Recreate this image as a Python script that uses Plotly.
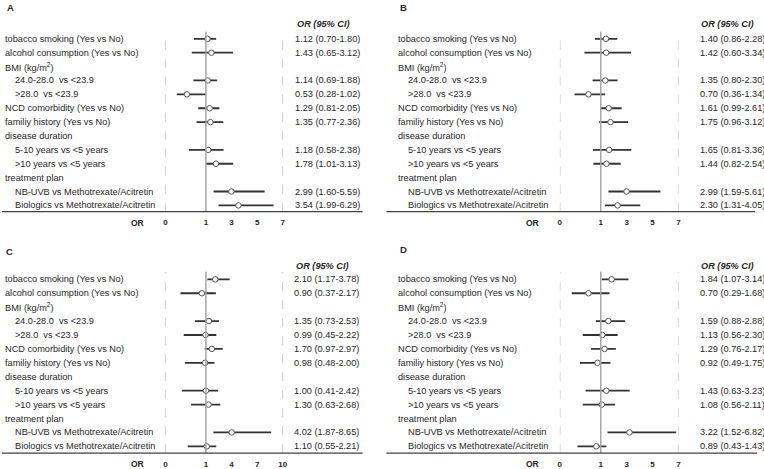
import plotly.graph_objects as go

W, H = 764, 469
FONT = "Liberation Sans, Arial, sans-serif"
INK = "#262626"

ROW_LABELS = [
    "tobacco smoking (Yes vs No)",
    "alcohol consumption (Yes vs No)",
    "BMI (kg/m<sup>2</sup>)",
    "24.0-28.0\u00a0 vs &lt;23.9",
    "&gt;28.0\u00a0 vs &lt;23.9",
    "NCD comorbidity (Yes vs No)",
    "familiy history (Yes vs No)",
    "disease duration",
    "5-10 years vs &lt;5 years",
    "&gt;10 years vs &lt;5 years",
    "treatment plan",
    "NB-UVB vs Methotrexate/Acitretin",
    "Biologics vs Methotrexate/Acitretin",
]
INDENTED = [0, 0, 0, 1, 1, 0, 0, 0, 1, 1, 0, 1, 1]

# odds ratios and 95% CI per panel (None = group header row)
OR_A = [1.12, 1.43, None, 1.14, 0.53, 1.29, 1.35, None, 1.18, 1.78, None, 2.99, 3.54]
LO_A = [0.70, 0.65, None, 0.69, 0.28, 0.81, 0.77, None, 0.58, 1.01, None, 1.60, 1.99]
HI_A = [1.80, 3.12, None, 1.88, 1.02, 2.05, 2.36, None, 2.38, 3.13, None, 5.59, 6.29]

OR_B = [1.40, 1.42, None, 1.35, 0.70, 1.61, 1.75, None, 1.65, 1.44, None, 2.99, 2.30]
LO_B = [0.86, 0.60, None, 0.80, 0.36, 0.99, 0.96, None, 0.81, 0.82, None, 1.59, 1.31]
HI_B = [2.28, 3.34, None, 2.30, 1.34, 2.61, 3.12, None, 3.36, 2.54, None, 5.61, 4.05]

OR_C = [2.10, 0.90, None, 1.35, 0.99, 1.70, 0.98, None, 1.00, 1.30, None, 4.02, 1.10]
LO_C = [1.17, 0.37, None, 0.73, 0.45, 0.97, 0.48, None, 0.41, 0.63, None, 1.87, 0.55]
HI_C = [3.78, 2.17, None, 2.53, 2.22, 2.97, 2.00, None, 2.42, 2.68, None, 8.65, 2.21]

OR_D = [1.84, 0.70, None, 1.59, 1.13, 1.29, 0.92, None, 1.43, 1.08, None, 3.22, 0.89]
LO_D = [1.07, 0.29, None, 0.88, 0.56, 0.76, 0.49, None, 0.63, 0.56, None, 1.52, 0.43]
HI_D = [3.14, 1.68, None, 2.88, 2.30, 2.17, 1.75, None, 3.23, 2.11, None, 6.82, 1.43]

TICKS_ABD = [0, 1, 3, 5, 7]
TICKS_C = [0, 1, 4, 7, 10]

BREAK = 0.345  # share of the axis given to 0..1 (broken scale as in the original)

# pixel geometry of each panel
PANELS = [
    dict(tag="A", tx=5, ty=8, x0=165, x1=283.3, lab=2.7, val=296, lx=(0, 364),
         head=24, row0=39, step=13.94, top=32, bot=212.5,
         data=(OR_A, LO_A, HI_A), ticks=TICKS_ABD),
    dict(tag="B", tx=402, ty=8, x0=563, x1=682.7, lab=400, val=704, lx=(388, 760),
         head=24, row0=39, step=13.94, top=32, bot=212.5,
         data=(OR_B, LO_B, HI_B), ticks=TICKS_ABD),
    dict(tag="C", tx=4, ty=253, x0=165, x1=283.3, lab=2.7, val=295, lx=(0, 364),
         head=267, row0=280.5, step=13.98, top=273, bot=455,
         data=(OR_C, LO_C, HI_C), ticks=TICKS_C),
    dict(tag="D", tx=402, ty=251, x0=563, x1=682.7, lab=400, val=704, lx=(388, 762),
         head=267, row0=280.5, step=13.98, top=273, bot=455,
         data=(OR_D, LO_D, HI_D), ticks=TICKS_ABD),
]


def px(x):
    return x / W


def py(y):
    return 1 - y / H


def pos(v, vmax):
    if v <= 1:
        return v * BREAK
    return BREAK + (v - 1) / (vmax - 1) * (1 - BREAK)


fig = go.Figure()
annotations, shapes = [], []

for n, p in enumerate(PANELS, start=1):
    sfx = "" if n == 1 else str(n)
    xa, ya = "x" + sfx, "y" + sfx
    ors, los, his = p["data"]
    vmax = p["ticks"][-1]
    rows = list(range(len(ROW_LABELS)))

    # CI whiskers
    cx, cy = [], []
    for i, lo, hi in zip(rows, los, his):
        if lo is None:
            continue
        cx += [pos(lo, vmax), pos(hi, vmax), None]
        cy += [i, i, None]
    fig.add_trace(go.Scatter(x=cx, y=cy, mode="lines", xaxis=xa, yaxis=ya,
                             line=dict(color="#333333", width=1.8), hoverinfo="skip",
                             showlegend=False))
    # point estimates
    mx = [pos(v, vmax) for v in ors if v is not None]
    my = [i for i, v in zip(rows, ors) if v is not None]
    fig.add_trace(go.Scatter(x=mx, y=my, mode="markers", xaxis=xa, yaxis=ya,
                             marker=dict(symbol="circle", size=5.5, color="white",
                                         line=dict(color="#555555", width=1)),
                             showlegend=False))

    r_top = (p["top"] - p["row0"]) / p["step"]
    r_bot = (p["bot"] - p["row0"]) / p["step"]
    fig.update_layout(**{
        "xaxis" + sfx: dict(domain=[px(p["x0"]), px(p["x1"])], range=[0, 1], anchor=ya,
                            showgrid=False, zeroline=False, showline=False,
                            tickvals=[pos(t, vmax) for t in p["ticks"]],
                            ticktext=[f"<b>{t}</b>" for t in p["ticks"]],
                            ticks="outside", ticklen=3, tickcolor="rgba(0,0,0,0)",
                            tickfont=dict(size=8, color=INK, family=FONT), fixedrange=True),
        "yaxis" + sfx: dict(domain=[py(p["bot"]), py(p["top"])], range=[r_bot, r_top],
                            anchor=xa, visible=False, fixedrange=True),
    })

    # reference lines at 0, 1 and the axis end
    for v, dash, col, wd in [(0, "dash", "#999999", 0.8), (vmax, "dash", "#999999", 0.8),
                             (1, "solid", "#a6a6a6", 1.5)]:
        shapes.append(dict(type="line", xref=xa, yref=f"{ya} domain",
                           x0=pos(v, vmax), x1=pos(v, vmax), y0=0, y1=1,
                           line=dict(color=col, width=wd, dash=dash)))
    # bottom rule
    shapes.append(dict(type="line", xref="paper", yref="paper",
                       x0=px(p["lx"][0]), x1=px(p["lx"][1]),
                       y0=py(p["bot"]), y1=py(p["bot"]),
                       line=dict(color="#404040", width=1.3)))

    # row labels and OR text
    for i, lab in enumerate(ROW_LABELS):
        annotations.append(dict(text=lab, xref="paper", yref=ya,
                                x=px(p["lab"] + 10 * INDENTED[i] - 2), y=i,
                                xanchor="left", yanchor="middle", showarrow=False,
                                font=dict(size=9.2, color=INK, family=FONT)))
        if ors[i] is not None:
            annotations.append(dict(text=f"{ors[i]:.2f} ({los[i]:.2f}-{his[i]:.2f})",
                                    xref="paper", yref=ya, x=px(p["val"] - 2), y=i,
                                    xanchor="left", yanchor="middle", showarrow=False,
                                    font=dict(size=9.2, color=INK, family=FONT)))
    annotations.append(dict(text="<b><i>OR (95% CI)</i></b>", xref="paper", yref="paper",
                            x=px(p["val"] - 0.5), y=py(p["head"]), xanchor="left",
                            yanchor="middle", showarrow=False,
                            font=dict(size=9.2, color=INK, family=FONT)))
    annotations.append(dict(text=f"<b>{p['tag']}</b>", xref="paper", yref="paper",
                            x=px(p["tx"] - 2), y=py(p["ty"]), xanchor="left",
                            yanchor="middle", showarrow=False,
                            font=dict(size=9.5, color=INK, family=FONT)))
    annotations.append(dict(text="<b>OR</b>", xref="paper", yref="paper",
                            x=px(p["x0"] - 28), y=py(p["bot"] + 11), xanchor="center",
                            yanchor="middle", showarrow=False,
                            font=dict(size=8.5, color=INK, family=FONT)))

fig.update_layout(width=W, height=H, margin=dict(l=0, r=0, t=0, b=0),
                  paper_bgcolor="white", plot_bgcolor="white",
                  annotations=annotations, shapes=shapes, showlegend=False,
                  font=dict(family=FONT, color=INK))
# the page body has a default 8px margin; drop it so the 764x469 figure fills the window
fig.write_html("out.html", config={"displayModeBar": False},
               post_script="document.body.style.margin='0';"
                           "document.body.style.overflow='hidden';")
